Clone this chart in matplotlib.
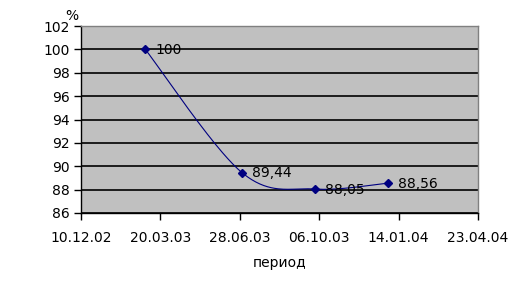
import matplotlib
matplotlib.use("Agg")
import matplotlib.pyplot as plt
import matplotlib.dates as mdates
import numpy as np
from datetime import datetime

dates = ["01.03.03", "01.07.03", "01.10.03", "01.01.04"]
values = [100, 89.44, 88.05, 88.56]
labels = ["100", "89,44", "88,05", "88,56"]
tick_dates = ["10.12.02", "20.03.03", "28.06.03", "06.10.03", "14.01.04", "23.04.04"]
y_ticks = [86, 88, 90, 92, 94, 96, 98, 100, 102]

plt.rcParams['font.family'] = ['DejaVu Sans']

def d2n(s):
    return mdates.date2num(datetime.strptime(s, "%d.%m.%y"))

xs = np.array([d2n(d) for d in dates])
ys = np.array(values, dtype=float)
xt = [d2n(d) for d in tick_dates]

fig = plt.figure(figsize=(5.30, 2.87), dpi=100)
ax = fig.add_axes([81/530, 1-213/287, (478-81)/530, (213-26)/287])
ax.set_facecolor('#C0C0C0')
ax.set_xlim(xt[0], xt[-1])
ax.set_ylim(86, 102)

# Excel-like smoothed line (Bezier in normalized screen space)
xr = (xt[-1]-xt[0]); yr = 16.0
W, H = 397.0, 187.0
px = (xs-xt[0])/xr*W
py = (ys-86)/yr*H
P = np.stack([px, py], axis=1)
n = len(P)
curve = []
for i in range(n-1):
    p0 = P[i-1] if i > 0 else P[i]
    p1 = P[i]; p2 = P[i+1]
    p3 = P[i+2] if i+2 < n else P[i+1]
    c1 = p1 + (p2 - p0)/6.0
    c2 = p2 - (p3 - p1)/6.0
    t = np.linspace(0, 1, 60)[:, None]
    seg = (1-t)**3*p1 + 3*(1-t)**2*t*c1 + 3*(1-t)*t**2*c2 + t**3*p2
    curve.append(seg)
curve = np.vstack(curve)
cx = curve[:, 0]/W*xr + xt[0]
cy = curve[:, 1]/H*yr + 86

ax.set_yticks(y_ticks)
ax.yaxis.grid(True, color='black', linewidth=1.2)
ax.set_axisbelow(True)
ax.plot(cx, cy, color='#000080', linewidth=0.8, zorder=3)
ax.plot(xs, ys, linestyle='none', marker='D', markersize=4, color='#000080', zorder=4)

for x, y, l in zip(xs, ys, labels):
    ax.annotate(l, (x, y), xytext=(7, -0.5), textcoords='offset points',
                ha='left', va='center', fontsize=10, color='black', zorder=5)

ax.set_xticks(xt)
ax.set_xticklabels(tick_dates)
ax.tick_params(axis='both', direction='out', length=5, width=1, labelsize=10, colors='black')
ax.tick_params(axis='x', pad=8)
ax.tick_params(axis='y', pad=3)

for s in ['top', 'right']:
    ax.spines[s].set_color('#808080')
for s in ['left', 'bottom']:
    ax.spines[s].set_color('black')
for s in ax.spines.values():
    s.set_linewidth(1)

fig.text(72/530, 1-16/287, '%', fontsize=10, ha='center', va='center')
fig.text(280/530, 1-263/287, 'период', fontsize=10, ha='center', va='center')

fig.savefig('out.png', dpi=100)
